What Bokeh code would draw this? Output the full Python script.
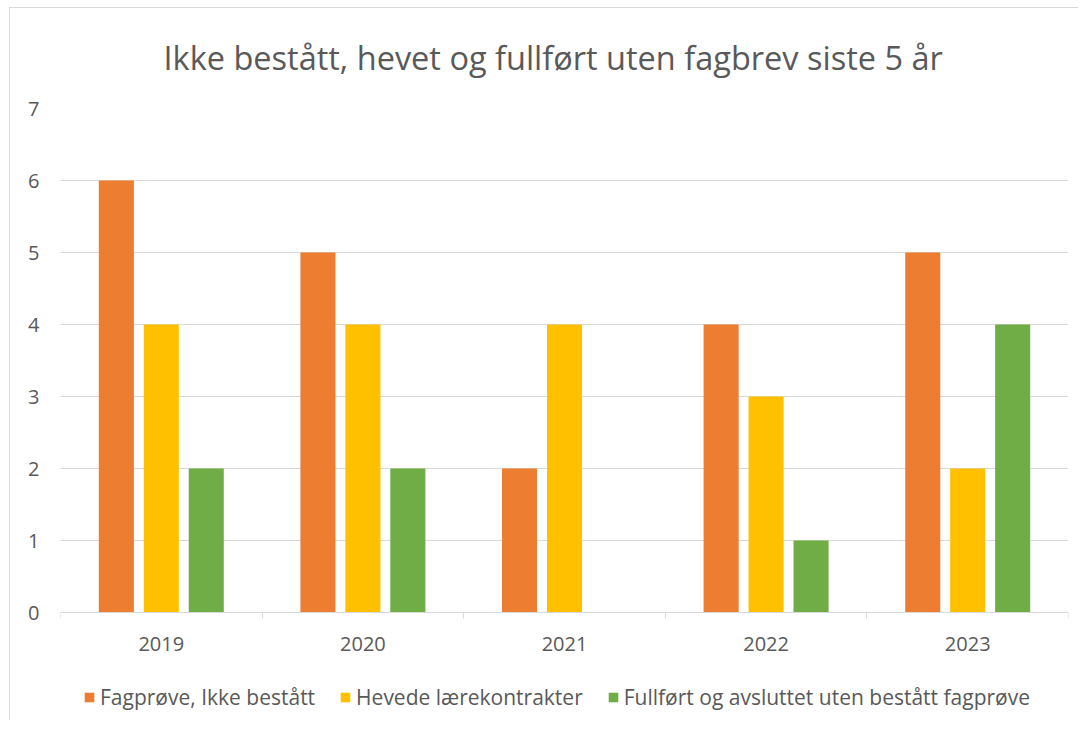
from bokeh.plotting import figure
from bokeh.models import ColumnDataSource, FixedTicker, Legend, LegendItem, Range1d, Title
from bokeh.transform import dodge
from bokeh.embed import file_html
from bokeh.resources import INLINE

years = ["2019", "2020", "2021", "2022", "2023"]
fagprove_ikke_bestatt = [6, 5, 2, 4, 5]
hevede_larekontrakter = [4, 4, 4, 3, 2]
fullfort_uten_fagprove = [2, 2, 0, 1, 4]
series_names = ["Fagprøve, Ikke bestått", "Hevede lærekontrakter",
                "Fullført og avsluttet uten bestått fagprøve"]
colors = ["#ED7D31", "#FFC000", "#70AD47"]
title_text = "Ikke bestått, hevet og fullført uten fagbrev siste 5 år"
y_ticks = [0, 1, 2, 3, 4, 5, 6, 7]

FONT = "Open Sans"
TXT = "#595959"
GRID = "#d9d9d9"

# layout: plot area 0..7 spans 504 px; frame extends below it to hold the legend
PX_PER_UNIT = 72
FRAME_H = 612
y_top = 7
y_bottom = y_top - FRAME_H / PX_PER_UNIT

x_centers = [i + 0.5 for i in range(len(years))]
source = ColumnDataSource(data=dict(
    x=x_centers,
    s0=fagprove_ikke_bestatt,
    s1=hevede_larekontrakter,
    s2=fullfort_uten_fagprove,
))

p = figure(
    frame_width=1008, frame_height=FRAME_H,
    min_border_left=50, min_border_top=100, min_border_right=10, min_border_bottom=0,
    x_range=Range1d(0, len(years)), y_range=Range1d(y_bottom, y_top),
    output_backend="svg", toolbar_location=None,
    background_fill_color="white", border_fill_color="white",
)
p.outline_line_color = None
p.styles = {"margin-left": "9px", "margin-top": "7px",
            "border-left": "1px solid #d9d9d9", "border-top": "1px solid #d9d9d9"}

p.title.text = title_text
p.title.text_font = FONT
p.title.text_font_size = "32.5px"
p.title.text_font_style = "normal"
p.title.text_color = TXT
p.title.align = "left"
p.title.offset = 103
p.title.standoff = 0
# spacer between title and plot area
p.add_layout(Title(text=" ", text_font_size="1px", standoff=26), "above")

offsets = [-0.223, 0.0, 0.223]
keys = ["s0", "s1", "s2"]
renderers = []
for k, off, c in zip(keys, offsets, colors):
    r = p.vbar(x=dodge("x", off, range=p.x_range), top=k, bottom=0, width=0.174,
               source=source, fill_color=c, line_color=None)
    renderers.append(r)

# x axis, pinned at y = 0
xa = p.xaxis[0]
xa.fixed_location = 0
xa.ticker = FixedTicker(ticks=x_centers, minor_ticks=list(range(len(years) + 1)))
xa.major_label_overrides = {x: y for x, y in zip(x_centers, years)}
xa.major_tick_line_color = None
xa.minor_tick_line_color = GRID
xa.minor_tick_out = 6
xa.minor_tick_in = 0
xa.axis_line_color = GRID
xa.major_label_text_font = FONT
xa.major_label_text_font_size = "20px"
xa.major_label_text_color = TXT
xa.major_label_standoff = 18
p.xgrid.grid_line_color = None

# y axis
ya = p.yaxis[0]
ya.ticker = FixedTicker(ticks=y_ticks)
ya.axis_line_color = None
ya.major_tick_line_color = None
ya.minor_tick_line_color = None
ya.major_label_text_font = FONT
ya.major_label_text_font_size = "20px"
ya.major_label_text_color = TXT
ya.major_label_standoff = 15
p.ygrid.grid_line_color = GRID
p.ygrid.grid_line_width = 1

legend = Legend(
    items=[LegendItem(label=n, renderers=[r]) for n, r in zip(series_names, renderers)],
    orientation="horizontal", location=(23, 9),
    label_text_font=FONT, label_text_font_size="21px", label_text_color=TXT,
    glyph_width=12, glyph_height=12, label_standoff=5, spacing=24,
    border_line_color=None, background_fill_alpha=0,
    margin=0, padding=0,
)
p.add_layout(legend, "center")

open("out.html", "w").write(file_html(p, INLINE))
